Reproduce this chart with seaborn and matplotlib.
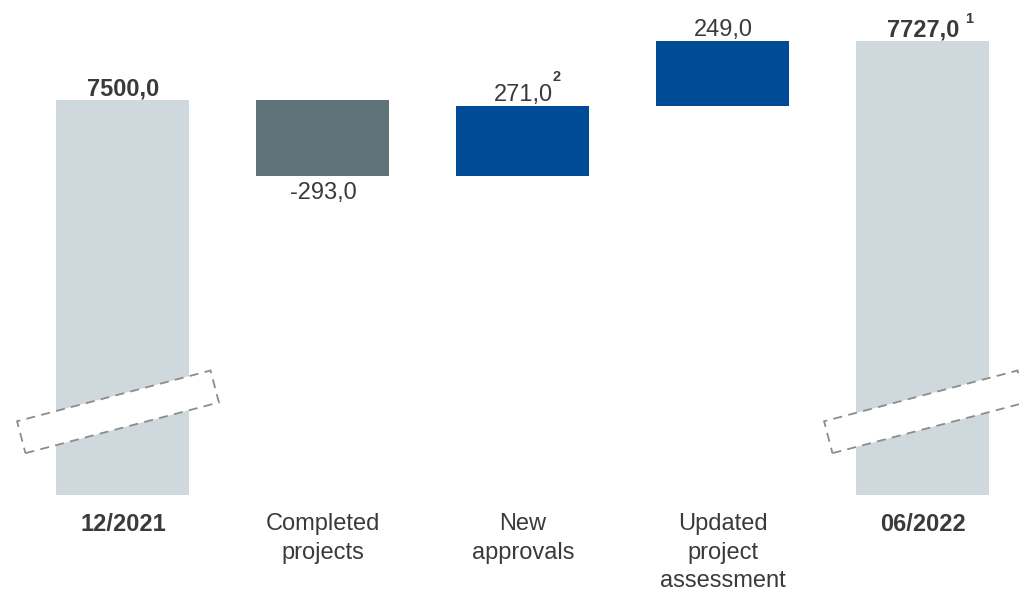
import matplotlib
matplotlib.use("Agg")
import matplotlib.pyplot as plt
import matplotlib.transforms as mtransforms
from matplotlib.patches import Rectangle
import seaborn as sns
import pandas as pd
import numpy as np

# ---- data ----
categories = ["12/2021", "Completed\nprojects", "New\napprovals", "Updated\nproject\nassessment", "06/2022"]
start_value = 7500.0
deltas = [-293.0, 271.0, 249.0]
end_value = 7727.0
value_labels = ["7500,0", "-293,0", "271,0", "249,0", "7727,0"]
superscripts = ["", "", "2", "", "1"]
bar_colors = ["#CFD8DC", "#607378", "#004B96", "#004B96", "#CFD8DC"]
bold_flags = [True, False, False, False, True]

# waterfall geometry
bottoms = [0.0]
tops = [start_value]
running = start_value
for d in deltas:
    new = running + d
    bottoms.append(min(running, new))
    tops.append(max(running, new))
    running = new
bottoms.append(0.0)
tops.append(end_value)

df = pd.DataFrame({"cat": categories, "top": tops})

sns.set_theme(style="white")
plt.rcParams["font.family"] = ["Liberation Sans", "DejaVu Sans"]
text_color = "#3a3a3a"

fig = plt.figure(figsize=(10.2, 5.9), dpi=100)
ax = fig.add_axes([0, 95 / 590, 1, 495 / 590])

sns.barplot(data=df, x="cat", y="top", hue="cat", palette=bar_colors,
            width=0.665, legend=False, ax=ax, saturation=1, linewidth=0)

for i, p in enumerate(ax.patches):
    p.set_y(bottoms[i])
    p.set_height(tops[i] - bottoms[i])

ax.set_xlim(-0.615, 4.485)
ax.set_ylim(5980, 7885)
ax.set_xlabel("")
ax.set_ylabel("")
ax.set_yticks([])
for s in ax.spines.values():
    s.set_visible(False)

ax.tick_params(axis="x", length=0, pad=13, labelsize=17, labelcolor=text_color)
for lab, b in zip(ax.get_xticklabels(), bold_flags):
    lab.set_linespacing(1.38)
    if b:
        lab.set_fontweight("bold")

# value labels
is_neg = [False] + [d < 0 for d in deltas] + [False]
for i in range(len(categories)):
    weight = "bold" if bold_flags[i] else "normal"
    if is_neg[i]:
        ax.annotate(value_labels[i], xy=(i, bottoms[i]), xytext=(0, -6),
                    textcoords="offset pixels", ha="center", va="top",
                    fontsize=17, color=text_color, fontweight=weight)
    else:
        ax.annotate(value_labels[i], xy=(i, tops[i]), xytext=(0, 5),
                    textcoords="offset pixels", ha="center", va="baseline",
                    fontsize=17, color=text_color, fontweight=weight)

# superscripts
sup_offsets = {2: (30, 25), 4: (42, 18)}
for i, s in enumerate(superscripts):
    if s:
        dx, dy = sup_offsets[i]
        ax.annotate(s, xy=(i, tops[i]), xytext=(dx, dy),
                    textcoords="offset pixels", ha="left", va="baseline",
                    fontsize=10.5, color=text_color, fontweight="bold")

# axis-break markers on the total bars
break_value = 6300
for i, dxp in [(0, -5), (4, 2)]:
    tr = (mtransforms.Affine2D().rotate_deg(14.7).translate(dxp / 100, 0)
          + fig.dpi_scale_trans
          + mtransforms.ScaledTranslation(i, break_value, ax.transData))
    rect = Rectangle((-1.0, -0.165), 2.0, 0.33, transform=tr,
                     facecolor="white", edgecolor="#8c8c8c",
                     linewidth=1.3, linestyle=(0, (5, 3.5)), clip_on=False, zorder=5)
    ax.add_patch(rect)

fig.savefig("out.png", dpi=100)
